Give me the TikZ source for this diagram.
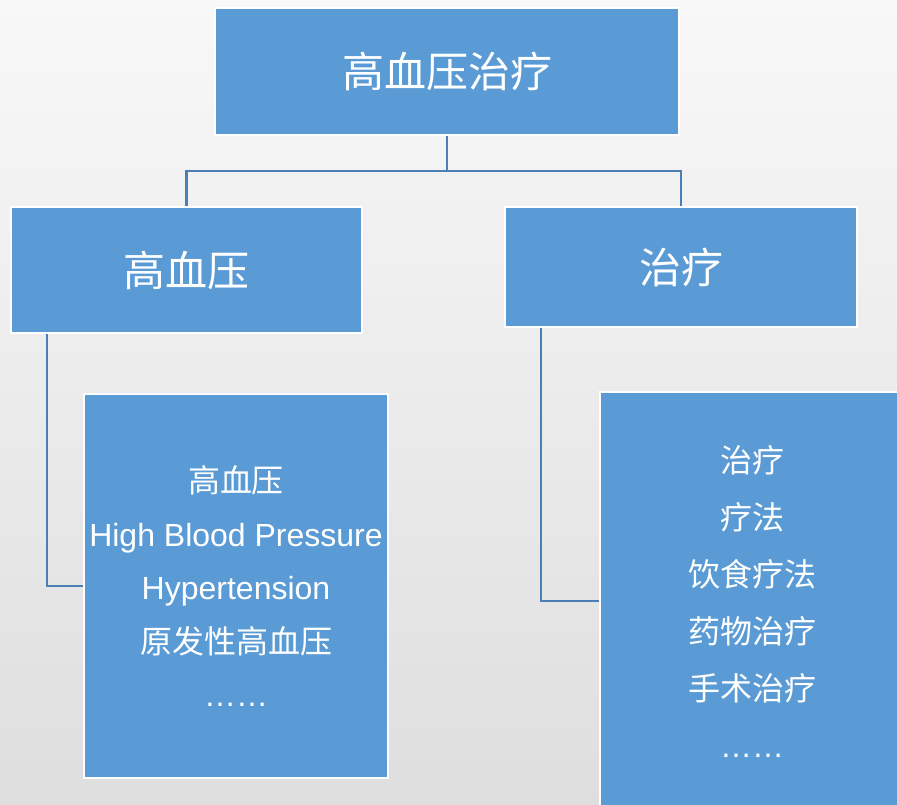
\documentclass[tikz,border=0pt]{standalone}
\usepackage{fontspec}
\setmainfont{Liberation Sans}
\newfontfamily\cjk{Noto Sans CJK SC}
\definecolor{boxblue}{HTML}{5B9BD5}
\definecolor{linkblue}{HTML}{4A7EB4}
\definecolor{bgtop}{HTML}{F8F8F8}
\definecolor{bgbot}{HTML}{DEDEDE}
\begin{document}
\begin{tikzpicture}[x=1pt,y=-1pt,
  blk/.style={draw=white, line width=2.5pt, fill=boxblue, text=white, inner sep=0pt, align=center},
  link/.style={draw=linkblue, line width=2.5pt}]
\useasboundingbox (0,0) rectangle (897,804);
\clip (0,0) rectangle (897,804);
\shade[top color=bgtop, bottom color=bgbot] (0,0) rectangle (897,804);
\node[blk, minimum width=464pt, minimum height=127pt, font={\cjk\fontsize{42}{50}\selectfont}] (top) at (447,71.5) {高血压治疗};
\node[blk, minimum width=351pt, minimum height=126pt, font={\cjk\fontsize{42}{50}\selectfont}] (gxy) at (186.5,270) {高血压};
\node[blk, minimum width=352pt, minimum height=120pt, font={\cjk\fontsize{42}{50}\selectfont}] (zl) at (681,267) {治疗};
\node[blk, minimum width=304pt, minimum height=384pt, font={\fontsize{32}{53.5}\selectfont}] (gxysub) at (236,586) {{\cjk 高血压}\\ High Blood Pressure\\ Hypertension\\ {\cjk 原发性高血压}\\ ……};
\node[blk, minimum width=304pt, minimum height=418pt, font={\fontsize{32}{57}\selectfont}] (zlsub) at (752,601) {{\cjk 治疗}\\ {\cjk 疗法}\\ {\cjk 饮食疗法}\\ {\cjk 药物治疗}\\ {\cjk 手术治疗}\\ ……};
\coordinate (mid) at (447,171);
\draw[link] (top.south) -- (mid) -| (gxy.north);
\draw[link] (mid) -| (zl.north);
\draw[link] ([xshift=-139.5pt]gxy.south) |- (gxysub.west);
\draw[link] ([xshift=-140pt]zl.south) |- (zlsub.west);
\end{tikzpicture}
\end{document}
